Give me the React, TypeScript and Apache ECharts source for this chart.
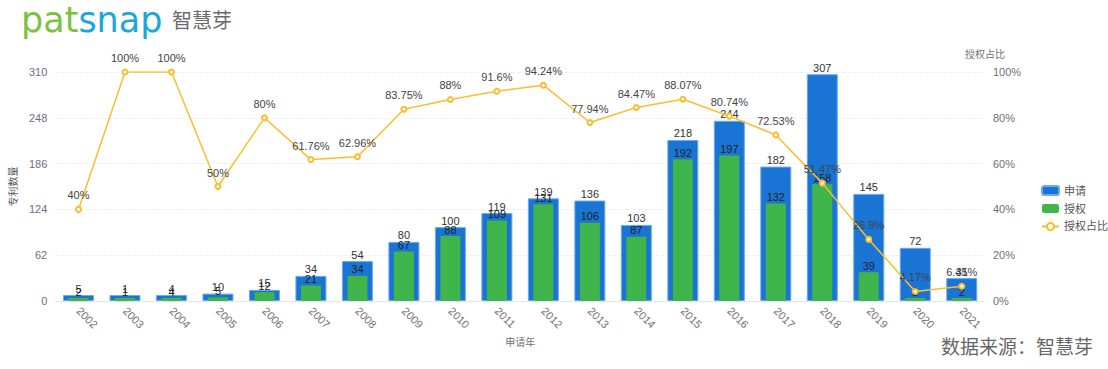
import React, { useEffect, useRef } from "react";
import * as echarts from "echarts";

const years = ["2002","2003","2004","2005","2006","2007","2008","2009","2010","2011","2012","2013","2014","2015","2016","2017","2018","2019","2020","2021"];
const applied = [5,1,4,10,15,34,54,80,100,119,139,136,103,218,244,182,307,145,72,31];
const granted = [2,1,4,5,12,21,34,67,88,109,131,106,87,192,197,132,158,39,3,2];
const ratio = [40,100,100,50,80,61.76,62.96,83.75,88,91.6,94.24,77.94,84.47,88.07,80.74,72.53,51.47,26.9,4.17,6.45];
const leftTicks = { min: 0, max: 310, interval: 62 };
const rightTicks = { min: 0, max: 100, interval: 20 };

const FONT = "'Liberation Sans', 'Noto Sans CJK SC', sans-serif";
const AXIS_TXT = "#6e7079";

export default function App() {
  const ref = useRef<HTMLDivElement>(null);
  useEffect(() => {
    document.body.style.margin = "0";
    const chart = echarts.init(ref.current!, null, { renderer: "svg" });
    chart.setOption({
      animation: false,
      backgroundColor: "#fff",
      textStyle: { fontFamily: FONT },
      graphic: [
        {
          type: "text", left: 21, top: 2,
          style: {
            text: "{a|pat}{b|snap}",
            rich: {
              a: { fontSize: 35, lineHeight: 40, fill: "#7cc242", fontFamily: "'DejaVu Sans', sans-serif" },
              b: { fontSize: 35, lineHeight: 40, fill: "#1ba7d9", fontFamily: "'DejaVu Sans', sans-serif" },
            },
          },
        },
        {
          type: "text", left: 172, top: 9,
          style: { text: "智慧芽", fontSize: 20, fill: "#6b6b6b", fontFamily: "'Noto Sans CJK SC', sans-serif" },
        },
        {
          type: "text", right: 15, top: 336,
          style: { text: "数据来源：智慧芽", fontSize: 19, fill: "#666", fontFamily: "'Noto Sans CJK SC', sans-serif" },
        },
      ],
      legend: {
        orient: "vertical", left: 1036, top: 180, itemWidth: 17, itemHeight: 9, itemGap: 7,
        textStyle: { fontSize: 11, color: "#555", fontFamily: FONT },
        data: [
          { name: "申请", icon: "roundRect" },
          { name: "授权", icon: "roundRect" },
          { name: "授权占比" },
        ],
      },
      grid: { left: 55, right: 123, top: 72, bottom: 68 },
      xAxis: [
        {
          type: "category", data: years,
          name: "申请年", nameLocation: "middle", nameGap: 34,
          nameTextStyle: { fontSize: 10, color: AXIS_TXT },
          axisLine: { lineStyle: { color: "#e0e6f1" } },
          axisTick: { show: false },
          axisLabel: { rotate: -45, fontSize: 11, color: AXIS_TXT, margin: 8 },
        },
        { type: "category", data: years, show: false },
      ],
      yAxis: [
        {
          type: "value", ...leftTicks,
          name: "专利数量", nameLocation: "middle", nameGap: 24,
          nameTextStyle: { fontSize: 10, color: "#555" },
          axisLabel: { fontSize: 11, color: AXIS_TXT },
          axisLine: { show: false }, axisTick: { show: false },
          splitLine: { lineStyle: { type: "dashed", color: "#eee" } },
        },
        {
          type: "value", ...rightTicks,
          name: "授权占比", nameLocation: "end", nameGap: 13,
          nameTextStyle: { fontSize: 10, color: AXIS_TXT, align: "center" },
          axisLabel: { fontSize: 11, color: AXIS_TXT, formatter: "{value}%" },
          axisLine: { show: false }, axisTick: { show: false },
          splitLine: { show: false },
        },
      ],
      series: [
        {
          name: "申请", type: "bar", data: applied, xAxisIndex: 0, yAxisIndex: 0,
          barWidth: 31, barMinHeight: 6,
          itemStyle: { color: "#1a74d3", borderColor: "#6aaaf0", borderWidth: 1 },
          label: { show: true, position: "top", distance: 1, fontSize: 11, color: "#333" },
        },
        {
          name: "授权", type: "bar", data: granted, xAxisIndex: 1, yAxisIndex: 0,
          barWidth: 20, barMinHeight: 3,
          itemStyle: { color: "#40b54b" },
          label: { show: true, position: "top", distance: 1, fontSize: 11, color: "#222" },
        },
        {
          name: "授权占比", type: "line", data: ratio, yAxisIndex: 1,
          symbol: "emptyCircle", symbolSize: 5,
          itemStyle: { color: "#fbbd2d" },
          lineStyle: { color: "#fbbd2d", width: 1.5 },
          label: { show: true, position: "top", fontSize: 11, color: "#444", formatter: "{c}%" },
          z: 5,
        },
      ],
    });
    return () => chart.dispose();
  }, []);
  return <div ref={ref} style={{ width: 1108, height: 369 }} />;
}
